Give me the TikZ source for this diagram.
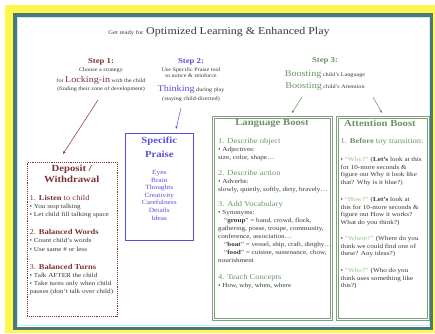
\documentclass[tikz,border=0pt]{standalone}
\usepackage{fontspec}
\setmainfont{Liberation Serif}[FakeStretch=1.15]
\usetikzlibrary{arrows.meta}

\definecolor{stepbrown}{RGB}{125,50,50}
\definecolor{stepblue}{RGB}{88,78,222}
\definecolor{stepgreen}{RGB}{104,148,98}
\definecolor{palegreen}{RGB}{150,192,140}
\definecolor{boxgreen}{RGB}{128,160,124}
\definecolor{bodytext}{RGB}{55,55,55}
\definecolor{frameteal}{RGB}{75,120,122}
\definecolor{framecyan}{RGB}{195,238,245}
\definecolor{bgyellow}{RGB}{255,246,80}

\newcommand{\headfont}{\fontsize{7.4}{8}\selectfont}
\newcommand{\bigword}[2]{{\color{#1}\fontsize{8.8}{9}\selectfont #2}}
\newcommand{\stephead}[2]{{\color{#1}\bfseries\fontsize{7.6}{8}\selectfont #2}}
\newcommand{\praisehead}[1]{{\bfseries\fontsize{9.3}{11}\selectfont #1}}

\begin{document}
\begin{tikzpicture}[x=1pt,y=-1pt,
  every node/.style={inner sep=0pt,text=bodytext},
  box/.style={anchor=north west,minimum width=#1},
  body/.style={anchor=north west,align=left},
  boxtitle/.style={font=\bfseries\fontsize{9.3}{11}\selectfont},
  boost/.style={draw=boxgreen,line width=0.9pt,double=white,double distance=0.9pt},
  tip/.style={-{Stealth[length=3pt,width=2.4pt]},line width=0.5pt}]

% page, yellow backing and frame
\useasboundingbox (0,0) rectangle (435,333);
\fill[bgyellow] (5,5) rectangle (435,333);
\draw[frameteal,line width=3.5pt,fill=white] (15,15) rectangle (431.5,328.5);
\draw[framecyan,line width=1pt] (17.8,17.8) rectangle (429.2,325.7);

\node (title) at (219,32) {{\fontsize{5.7}{8}\selectfont Get ready for} {\fontsize{10.4}{14}\selectfont Optimized Learning \& Enhanced Play}};

% the three steps
\node[align=center,anchor=north,font=\fontsize{5.35}{8}\selectfont] (step1) at (101,58) {%
  \stephead{stepbrown}{Step 1:}\\
  Choose a strategy\\[3pt]
  for \bigword{stepbrown}{Locking-in} with the child\\
  (finding their zone of development)};
\node[align=center,anchor=north,font=\fontsize{5.35}{6}\selectfont] (step2) at (191,58) {%
  \stephead{stepblue}{Step 2:}\\[2.7pt]
  Use Specific Praise tool\\
  to notice \& reinforce\\[6.7pt]
  \bigword{stepblue}{Thinking} during play\\[3pt]
  (staying child-directed)};
\node[align=center,anchor=north,font=\fontsize{5.35}{12}\selectfont] (step3) at (325,57) {%
  \stephead{stepgreen}{Step 3:}\\[2pt]
  \bigword{stepgreen}{Boosting} child's Language\\
  \bigword{stepgreen}{Boosting} child's Attention};

% boxes
\node[box=90pt,draw=stepbrown,densely dotted,line width=0.9pt,minimum height=154pt] (deposit) at (26.7,161.7) {};
\node[box=68pt,draw=stepblue,line width=1pt,minimum height=107pt] (praise) at (125.3,133.3) {};
\node[box=118pt,boost,minimum height=202pt] (language) at (213,117) {};
\node[box=91pt,boost,minimum height=202pt] (attention) at (337,117) {};

% arrows from the steps down to the boxes
\coordinate (s1a) at (98,100);
\coordinate (s1b) at (63,154);
\coordinate (s2a) at (181,108);
\coordinate (s2b) at (176,129);
\coordinate (s3a) at (302,97);
\coordinate (s3b) at (292,113);
\coordinate (s3c) at (373,97);
\coordinate (s3d) at (382,113);
\path[draw=stepbrown,tip] (s1a) -- (s1b);
\path[draw=stepblue,tip] (s2a) -- (s2b);
\path[draw=stepgreen,tip] (s3a) -- (s3b);
\path[draw=stepgreen,tip] (s3c) -- (s3d);

% Deposit / Withdrawal
\node[boxtitle,align=center,anchor=north,text=stepbrown] (deptitle) at (71.7,165.3) {Deposit /\\Withdrawal};
\node[body,font=\fontsize{6.2}{8.2}\selectfont] (depbody) at (29.5,195) {%
  {\color{stepbrown}\headfont 1. \textbf{Listen} to child}\\
  • You stop talking\\
  • Let child fill talking space\\[9.8pt]
  {\color{stepbrown}\headfont 2. \textbf{Balanced Words}}\\
  • Count child's words\\
  • Use same \# or less\\[10pt]
  {\color{stepbrown}\headfont 3. \textbf{Balanced Turns}}\\
  • Talk AFTER the child\\
  • Take turns only when child\\
  pauses (don't talk over child)};

% Specific Praise
\node[align=center,anchor=north,text=stepblue,font=\fontsize{6.4}{7.6}\selectfont] (praisetext) at (159.3,136.5) {%
  \praisehead{Specific}\\[4.4pt]
  \praisehead{Praise}\\[9.8pt]
  Eyes\\ Brain\\ Thoughts\\ Creativity\\ Carefulness\\ Details\\ Ideas};

% Language Boost
\node[boxtitle,text=stepgreen] (langtitle) at (272,123) {Language Boost};
\node[body,font=\fontsize{6.2}{8}\selectfont] (langbody) at (218,138.3) {%
  {\color{stepgreen}\headfont 1. Describe object}\\
  • Adjectives:\\
  size, color, shape…\\[8pt]
  {\color{stepgreen}\headfont 2. Describe action}\\
  • Adverbs:\\
  slowly, quietly, softly, dirty, bravely…\\[7pt]
  {\color{stepgreen}\headfont 3. Add Vocabulary}\\
  • Synonyms:\\
  \hspace*{6pt}“\textbf{group}” = band, crowd, flock,\\
  gathering, posse, troupe, community,\\
  conference, association…\\
  \hspace*{6pt}“\textbf{boat}” = vessel, ship, craft, dinghy…\\
  \hspace*{6pt}“\textbf{food}” = cuisine, sustenance, chow,\\
  nourishment\\[8.7pt]
  {\color{stepgreen}\headfont 4. Teach Concepts}\\
  • How, why, when, where};

% Attention Boost
\node[boxtitle,text=stepgreen] (attntitle) at (380,123) {Attention Boost};
\node[body,font=\fontsize{6.2}{7.6}\selectfont] (attnbody) at (340.5,138) {%
  {\color{stepgreen}\headfont 1. \textbf{Before} toy transition:}\\[10.4pt]
  • {\color{palegreen}“Why?”} (\textbf{Let's} look at this\\
  for 10-more seconds \&\\
  figure out Why it look like\\
  that? Why is it blue?)\\[9.9pt]
  • {\color{palegreen}“How?”} (\textbf{Let's} look at\\
  this for 10-more seconds \&\\
  figure out How it works?\\
  What do you think?)\\[8.4pt]
  • {\color{palegreen}“Where?”} (Where do you\\
  think we could find one of\\
  these? Any ideas?)\\[9.4pt]
  • {\color{palegreen}“Who?”} (Who do you\\
  think uses something like\\
  this?)};
\end{tikzpicture}
\end{document}
